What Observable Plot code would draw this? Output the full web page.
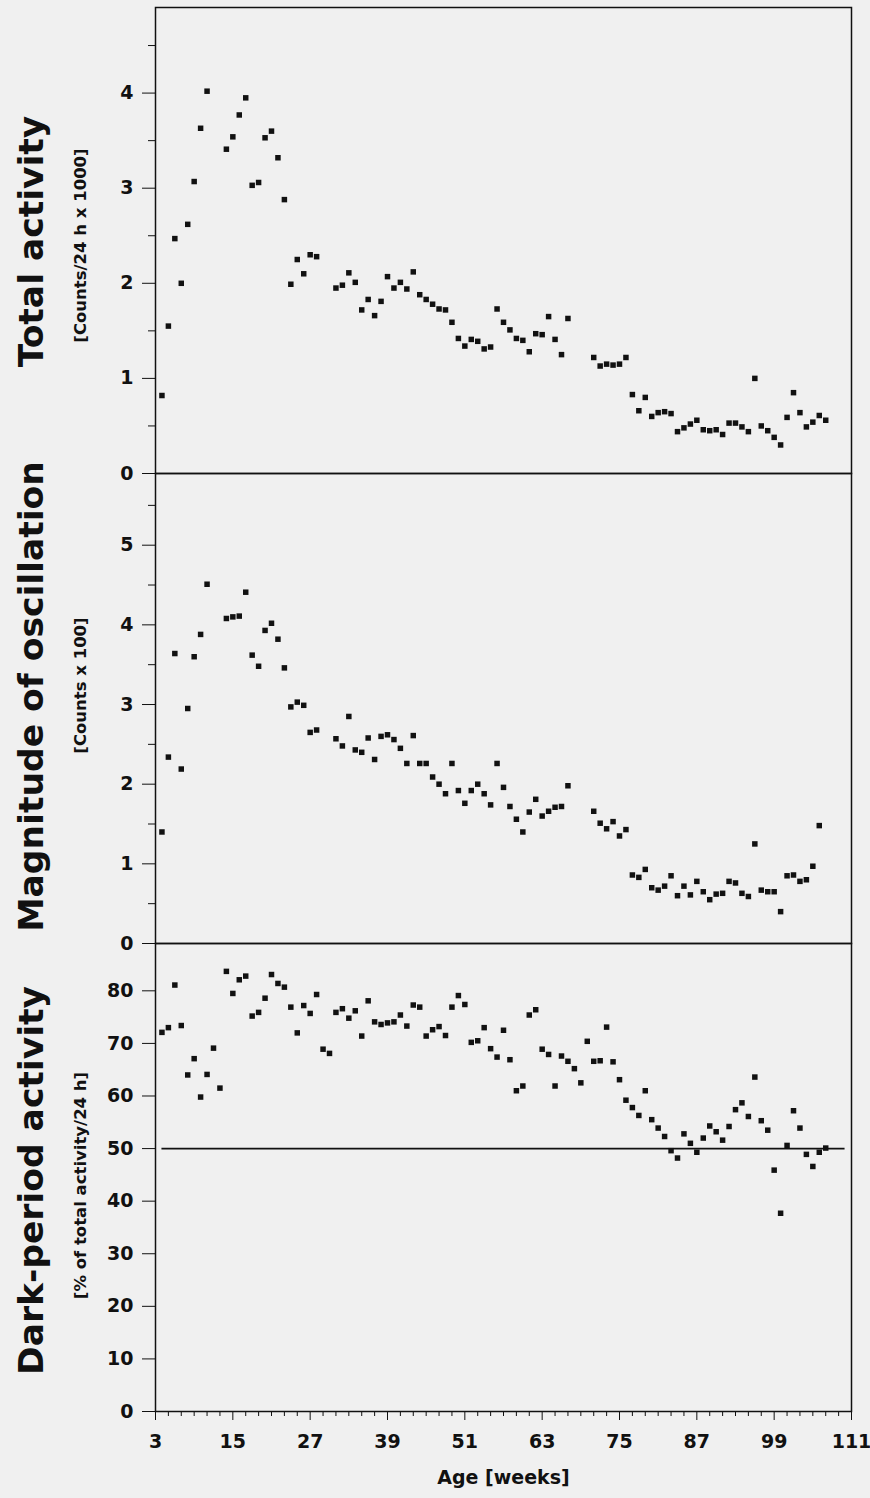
<!DOCTYPE html>
<html><head><meta charset="utf-8">
<script src="https://cdn.jsdelivr.net/npm/d3@7"></script>
<script src="https://cdn.jsdelivr.net/npm/@observablehq/plot@0.6"></script>
<style>
html,body{margin:0;padding:0;background:#f0f0f0;}
#wrap{position:relative;width:870px;height:1498px;overflow:hidden;}
#wrap > svg{position:absolute;left:0;margin:0;}
</style></head><body><div id="wrap"></div>
<script>
// ---------- data ----------
const xTicks = [3, 15, 27, 39, 51, 63, 75, 87, 99, 111];
const xMinorTicks = [5,7,9,11,13,17,19,21,23,25,29,31,33,35,37,41,43,45,47,49,53,55,57,59,61,65,67,69,71,73,77,79,81,83,85,89,91,93,95,97,101,103,105,107,109];

const weeksTotal = [4,5,6,7,8,9,10,11,14,15,16,17,18,19,20,21,22,23,24,25,26,27,28,31,32,33,34,35,36,37,38,39,40,41,42,43,44,45,46,47,48,49,50,51,52,53,54,55,56,57,58,59,60,61,62,63,64,65,66,67,71,72,73,74,75,76,77,78,79,80,81,82,83,84,85,86,87,88,89,90,91,92,93,94,95,96,97,98,99,100,101,102,103,104,105,106,107];
const totalActivity = [0.82,1.55,2.47,2.00,2.62,3.07,3.63,4.02,3.41,3.54,3.77,3.95,3.03,3.06,3.53,3.60,3.32,2.88,1.99,2.25,2.10,2.30,2.28,1.95,1.98,2.11,2.01,1.72,1.83,1.66,1.81,2.07,1.95,2.01,1.94,2.12,1.88,1.83,1.78,1.73,1.72,1.59,1.42,1.34,1.41,1.39,1.31,1.33,1.73,1.59,1.51,1.42,1.40,1.28,1.47,1.46,1.65,1.41,1.25,1.63,1.22,1.13,1.15,1.14,1.15,1.22,0.83,0.66,0.80,0.60,0.64,0.65,0.63,0.44,0.48,0.52,0.56,0.46,0.45,0.46,0.41,0.53,0.53,0.49,0.44,1.00,0.50,0.45,0.38,0.30,0.59,0.85,0.64,0.49,0.54,0.61,0.56];
const yTicksTotal = [0, 1, 2, 3, 4];
const yMinorTotal = [0.5, 1.5, 2.5, 3.5, 4.5];

const weeksOsc = [4,5,6,7,8,9,10,11,14,15,16,17,18,19,20,21,22,23,24,25,26,27,28,31,32,33,34,35,36,37,38,39,40,41,42,43,44,45,46,47,48,49,50,51,52,53,54,55,56,57,58,59,60,61,62,63,64,65,66,67,71,72,73,74,75,76,77,78,79,80,81,82,83,84,85,86,87,88,89,90,91,92,93,94,95,96,97,98,99,100,101,102,103,104,105,106];
const oscillation = [1.40,2.34,3.64,2.19,2.95,3.60,3.88,4.51,4.08,4.10,4.11,4.41,3.62,3.48,3.93,4.02,3.82,3.46,2.97,3.03,2.99,2.65,2.68,2.57,2.48,2.85,2.43,2.40,2.58,2.31,2.60,2.62,2.56,2.45,2.26,2.61,2.26,2.26,2.09,2.00,1.88,2.26,1.92,1.76,1.92,2.00,1.88,1.74,2.26,1.96,1.72,1.56,1.40,1.65,1.81,1.60,1.66,1.71,1.72,1.98,1.66,1.51,1.44,1.53,1.35,1.43,0.86,0.83,0.93,0.70,0.67,0.72,0.85,0.60,0.72,0.61,0.78,0.65,0.55,0.62,0.63,0.78,0.76,0.63,0.59,1.25,0.67,0.65,0.65,0.40,0.85,0.86,0.78,0.80,0.97,1.48];
const yTicksOsc = [0, 1, 2, 3, 4, 5];
const yMinorOsc = [0.5, 1.5, 2.5, 3.5, 4.5, 5.5];

const weeksDark = [4,5,6,7,8,9,10,11,12,13,14,15,16,17,18,19,20,21,22,23,24,25,26,27,28,29,30,31,32,33,34,35,36,37,38,39,40,41,42,43,44,45,46,47,48,49,50,51,52,53,54,55,56,57,58,59,60,61,62,63,64,65,66,67,68,69,70,71,72,73,74,75,76,77,78,79,80,81,82,83,84,85,86,87,88,89,90,91,92,93,94,95,96,97,98,99,100,101,102,103,104,105,106,107];
const darkActivity = [72.1,73.0,81.1,73.4,64.0,67.1,59.8,64.1,69.1,61.5,83.7,79.5,82.1,82.8,75.2,75.9,78.6,83.1,81.4,80.7,76.9,72.0,77.2,75.7,79.3,68.9,68.1,75.9,76.6,74.8,76.2,71.4,78.1,74.1,73.6,73.9,74.1,75.4,73.3,77.3,76.9,71.4,72.6,73.2,71.5,76.9,79.1,77.4,70.2,70.5,73.0,69.0,67.4,72.5,66.9,61.0,61.9,75.4,76.4,68.9,67.9,61.9,67.6,66.6,65.2,62.5,70.4,66.6,66.7,73.1,66.5,63.1,59.2,57.8,56.3,61.0,55.5,53.9,52.3,49.6,48.2,52.8,51.0,49.3,52.0,54.3,53.2,51.6,54.2,57.4,58.7,56.1,63.6,55.3,53.5,45.9,37.7,50.6,57.2,53.9,48.9,46.6,49.3,50.1];
const yTicksDark = [0, 10, 20, 30, 40, 50, 60, 70, 80];
const referenceLine = [{value: 50, from: 4, to: 110}];

const titles = ["Total activity", "Magnitude of oscillation", "Dark-period activity"];
const subtitles = ["[Counts/24 h x 1000]", "[Counts x 100]", "[% of total activity/24 h]"];
const xLabel = "Age [weeks]";

// ---------- drawing ----------
const FONT = "DejaVu Sans";
const INK = "#111";
const wrap = document.getElementById("wrap");
const fmt = d => String(d);

function panel({weeks, values, domain, ticks, minor, title, sub, top, height, mt, mb, bottomAxis, extra, titleDy, subDy}) {
  const data = weeks.map((w, i) => ({week: w, value: values[i]}));
  const marks = [
    Plot.axisY(ticks, {tickSize: 13, tickPadding: 9, tickFormat: fmt, label: null, fontSize: 19, fontWeight: "bold", fontFamily: FONT, stroke: INK, fill: INK}),
  ];
  if (minor) marks.push(Plot.axisY(minor, {tickSize: 7, tickFormat: () => "", label: null, stroke: INK}));
  if (bottomAxis) {
    marks.push(Plot.axisX(xTicks, {tickSize: 9, tickPadding: 14, tickFormat: fmt, label: null, fontSize: 19, fontWeight: "bold", fontFamily: FONT, stroke: INK, fill: INK}));
    marks.push(Plot.axisX(xMinorTicks, {tickSize: 5, tickFormat: () => "", label: null, stroke: INK}));
    marks.push(Plot.text([xLabel], {frameAnchor: "bottom", textAnchor: "middle", dy: 72, fontSize: 19, fontWeight: "bold", fontFamily: FONT, fill: INK}));
  }
  marks.push(...(extra || []));
  marks.push(
    Plot.dot(data, {x: "week", y: "value", symbol: "square", r: 3.1, fill: INK, stroke: "none"}),
    Plot.frame({stroke: INK, strokeWidth: 1.5}),
    Plot.text([title], {frameAnchor: "left", textAnchor: "middle", dx: -124, dy: titleDy || 0, rotate: -90, fontSize: 34.5, fontWeight: "bold", fontFamily: FONT, fill: INK}),
    Plot.text([sub], {frameAnchor: "left", textAnchor: "middle", dx: -75, dy: subDy || 0, rotate: -90, fontSize: 16.5, fontWeight: "bold", fontFamily: FONT, fill: INK})
  );
  const svg = Plot.plot({
    width: 870, height,
    marginLeft: 155, marginRight: 19, marginTop: mt, marginBottom: mb,
    style: {background: "transparent", color: INK, overflow: "visible", fontFamily: FONT},
    x: {domain: [3, 111], axis: bottomAxis ? undefined : null},
    y: {domain},
    marks
  });
  svg.style.top = top + "px";
  wrap.appendChild(svg);
}

panel({weeks: weeksTotal, values: totalActivity, domain: [0, 4.9], ticks: yTicksTotal, minor: yMinorTotal,
  title: titles[0], sub: subtitles[0], top: 0, height: 480, mt: 7, mb: 7, titleDy: 1, subDy: 5});
panel({weeks: weeksOsc, values: oscillation, domain: [0, 5.9], ticks: yTicksOsc, minor: yMinorOsc,
  title: titles[1], sub: subtitles[1], top: 466, height: 484, mt: 7, mb: 7, titleDy: -12, subDy: -23});
panel({weeks: weeksDark, values: darkActivity, domain: [0, 89], ticks: yTicksDark, minor: null,
  title: titles[2], sub: subtitles[2], top: 936, height: 562, mt: 7, mb: 87, bottomAxis: true, titleDy: 3, subDy: 8,
  extra: [Plot.ruleY(referenceLine, {y: "value", x1: "from", x2: "to", stroke: INK, strokeWidth: 1.8})]});
</script>
</body></html>
